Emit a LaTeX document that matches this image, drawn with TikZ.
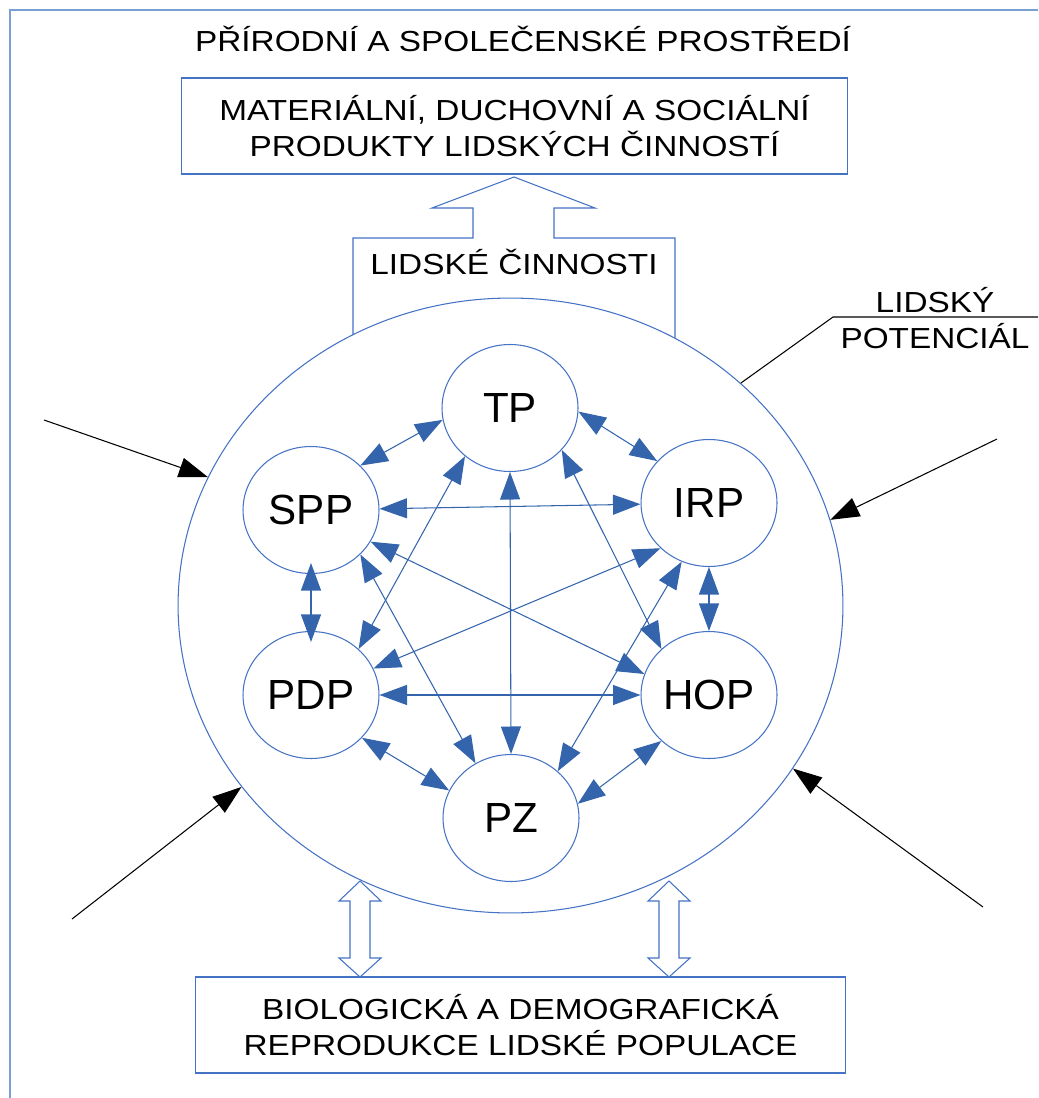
\documentclass[tikz,border=0pt]{standalone}
\usepackage{fontspec}
\setmainfont{Liberation Sans}
\usepackage{graphicx}
\usetikzlibrary{arrows.meta,shapes.geometric}

\definecolor{linea}{RGB}{68,114,196}
\definecolor{flecha}{RGB}{52,101,172}
\definecolor{marco}{RGB}{120,160,210}

\newcommand{\ancho}[1]{\scalebox{1.15}[1]{#1}}

\begin{document}
\begin{tikzpicture}[x=0.02cm, y=-0.02cm, line width=0.6pt,
  >={Triangle[length=0.55cm, width=0.4cm]},
  agente/.style={ellipse, draw=linea, minimum width=2.72cm, minimum height=2.54cm, inner sep=0pt, font=\fontsize{24}{27}\selectfont},
  caja/.style={draw=linea, minimum height=1.92cm, align=center, font=\fontsize{16.5}{20.5}\selectfont},
  texto/.style={align=center, font=\fontsize{16.5}{20}\selectfont},
  enlace/.style={<->, draw=flecha},
  externa/.style={-{Triangle[length=0.58cm, width=0.4cm]}, draw=black}]

\useasboundingbox (0,0) rectangle (1038,1098);

% Marco
\draw[marco] (10,1098) -- (10,10) -- (1038,10);

% Potencial (elipse grande)
\node[ellipse, draw=linea, minimum width=13.3cm, minimum height=12.3cm] (pot) at (510.5,605.5) {};

% Textos y cajas
\node[texto, anchor=base] (medio) at (523,52) {\ancho{PŘÍRODNÍ A SPOLEČENSKÉ PROSTŘEDÍ}};
\node[caja, minimum width=13.34cm] (produkty) at (514.5,126) {\ancho{MATERIÁLNÍ, DUCHOVNÍ A SOCIÁLNÍ}\\ \ancho{PRODUKTY LIDSKÝCH ČINNOSTÍ}};
\node[caja, minimum width=13.02cm] (reprodukce) at (520.5,1025) {\ancho{BIOLOGICKÁ A DEMOGRAFICKÁ}\\ \ancho{REPRODUKCE LIDSKÉ POPULACE}};
\node[texto, anchor=base] (cinnosti) at (514,274) {\ancho{LIDSKÉ ČINNOSTI}};
\node[texto] (potencial) at (935,318) {\ancho{LIDSKÝ}\\ \ancho{POTENCIÁL}};

% Flecha hueca hacia arriba
\draw[linea] (353,335) -- (353,238) -- (473,238) -- (473,208) -- (432,208) -- (514,177)
  -- (595,208) -- (554,208) -- (554,238) -- (675,238) -- (675,338);

% Flechas huecas dobles abajo
\foreach \c in {360,669}
  \draw[linea, fill=white] (\c,881) -- ({\c+21},901) -- ({\c+10},901) -- ({\c+10},958) -- ({\c+21},958)
    -- (\c,977) -- ({\c-21},958) -- ({\c-10},958) -- ({\c-10},901) -- ({\c-21},901) -- cycle;

% Linea del rotulo
\coordinate (codo) at (833,317);
\coordinate (fin) at (1038,317);
\draw (pot.44) -- (codo) -- (fin);

% Influencias de fuera
\coordinate (e1) at (44,420);
\coordinate (e2) at (997,439);
\coordinate (e3) at (72,919);
\coordinate (e4) at (983,907);
\draw[externa] (e1) -- (pot.157);
\draw[externa] (e2) -- (pot.15.5);
\draw[externa] (e3) -- (pot.214.7);
\draw[externa] (e4) -- (pot.330);

% Componentes
\node[agente] (TP) at (510,408) {TP};
\node[agente] (SPP) at (311,510) {SPP};
\node[agente] (IRP) at (709,503) {IRP};
\node[agente] (PDP) at (311,695) {PDP};
\node[agente] (HOP) at (709,695) {HOP};
\node[agente] (PZ) at (511,818) {PZ};

% Relaciones
\path (TP.190) edge[enlace] (SPP.42);
\path (TP.357) edge[enlace] (IRP.141);
\path (TP.270) edge[enlace] (PZ.90);
\path (TP.227) edge[enlace] (PDP.44);
\path (TP.321) edge[enlace] (HOP.136);
\path (SPP.1) edge[enlace] (IRP.181);
\path (SPP.270) edge[enlace, shorten <=-0.22cm, shorten >=-0.22cm] (PDP.90);
\path (SPP.332) edge[enlace] (HOP.162);
\path (SPP.318) edge[enlace] (PZ.123);
\path (IRP.223) edge[enlace] (PDP.23);
\path (IRP.270) edge[enlace] (HOP.90);
\path (IRP.245) edge[enlace] (PZ.45);
\path (PDP.0) edge[enlace] (HOP.180);
\path (PDP.320) edge[enlace] (PZ.156);
\path (HOP.224) edge[enlace] (PZ.12);

\end{tikzpicture}
\end{document}
